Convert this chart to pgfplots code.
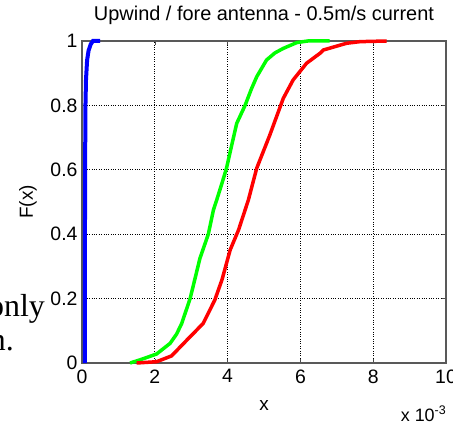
\documentclass[border=0pt]{standalone}
\usepackage{pgfplots}
\pgfplotsset{compat=1.18}
\usepackage{fontspec}
\setmainfont{Liberation Sans}
\newfontfamily\seriffont{Liberation Serif}
\begin{document}
\begin{tikzpicture}[x=1bp,y=1bp]
\begin{axis}[
  at={(0,0)}, anchor=south west,
  scale only axis, width=364bp, height=322bp,
  xmin=0, xmax=10, ymin=0, ymax=1,
  xtick={0,2,4,6,8,10}, ytick={0,0.2,0.4,0.6,0.8,1},
  yticklabels={0,0.2,0.4,0.6,0.8,1},
  xticklabels={0,2,4,6,8,10},
  tick align=inside, major tick length=4bp,
  tick style={black!70, line width=0.6bp},
  axis line style={black!65, line width=1.1bp},
  grid=major, major grid style={black, dotted, line width=0.7bp},
  ticklabel style={font=\fontsize{19.5}{19.5}\selectfont, text=black},
  xticklabel style={yshift=-3bp},
  yticklabel style={xshift=-1bp},
  title={Upwind / fore antenna - 0.5m/s current},
  title style={font=\fontsize{20}{20}\selectfont, at={(rel axis cs:0.5,1)}, anchor=base, yshift=15bp},
  xlabel={x},
  xlabel style={font=\fontsize{19}{19}\selectfont, at={(rel axis cs:0.5,0)}, anchor=base, yshift=-47bp},
  clip=false,
]
\addplot[blue, line width=4bp] coordinates {
(0.08,0) (0.08,0.3) (0.085,0.6) (0.095,0.8) (0.11,0.88) (0.14,0.94) (0.18,0.97) (0.24,0.99) (0.3,1) (0.5,1)
};
\addplot[green, line width=3.5bp] coordinates {
(1.32,0) (1.6,0.01) (2.05,0.028) (2.42,0.061) (2.6,0.09) (2.74,0.123) (2.97,0.2) (3.1,0.26) (3.24,0.325) (3.47,0.40) (3.61,0.475) (3.70,0.506) (3.85,0.56) (3.97,0.605) (4.1,0.67) (4.25,0.744) (4.48,0.80) (4.65,0.85) (4.80,0.889) (5.07,0.941) (5.3,0.963) (5.53,0.977) (5.90,0.995) (6.2,1) (6.8,1)
};
\addplot[red, line width=3.5bp] coordinates {
(1.50,0) (2.05,0.004) (2.46,0.022) (2.88,0.071) (3.33,0.123) (3.65,0.196) (3.85,0.26) (4.07,0.351) (4.30,0.413) (4.48,0.475) (4.57,0.506) (4.80,0.605) (5.16,0.708) (5.53,0.822) (5.80,0.879) (6.17,0.931) (6.54,0.962) (6.63,0.972) (7.27,0.993) (7.64,0.998) (8.37,1)
};
\node[anchor=base east, font=\fontsize{18}{18}\selectfont, inner sep=0pt] at (rel axis cs:1,0) [yshift=-58bp] {x 10\raisebox{7bp}{\fontsize{12.5}{12.5}\selectfont -3}};
\end{axis}
\node[rotate=90, anchor=base, font=\fontsize{19}{19}\selectfont, inner sep=0pt] at (-49bp,161bp) {F(x)};
\node[anchor=base east, font=\seriffont\fontsize{32}{32}\selectfont, inner sep=0pt] at (-37bp,46bp) {only};
\node[anchor=base east, font=\seriffont\fontsize{32}{32}\selectfont, inner sep=0pt] at (-68bp,13bp) {tion.};
\pgfresetboundingbox
\path (-82bp,-59bp) rectangle (371bp,363bp);
\end{tikzpicture}
\end{document}
